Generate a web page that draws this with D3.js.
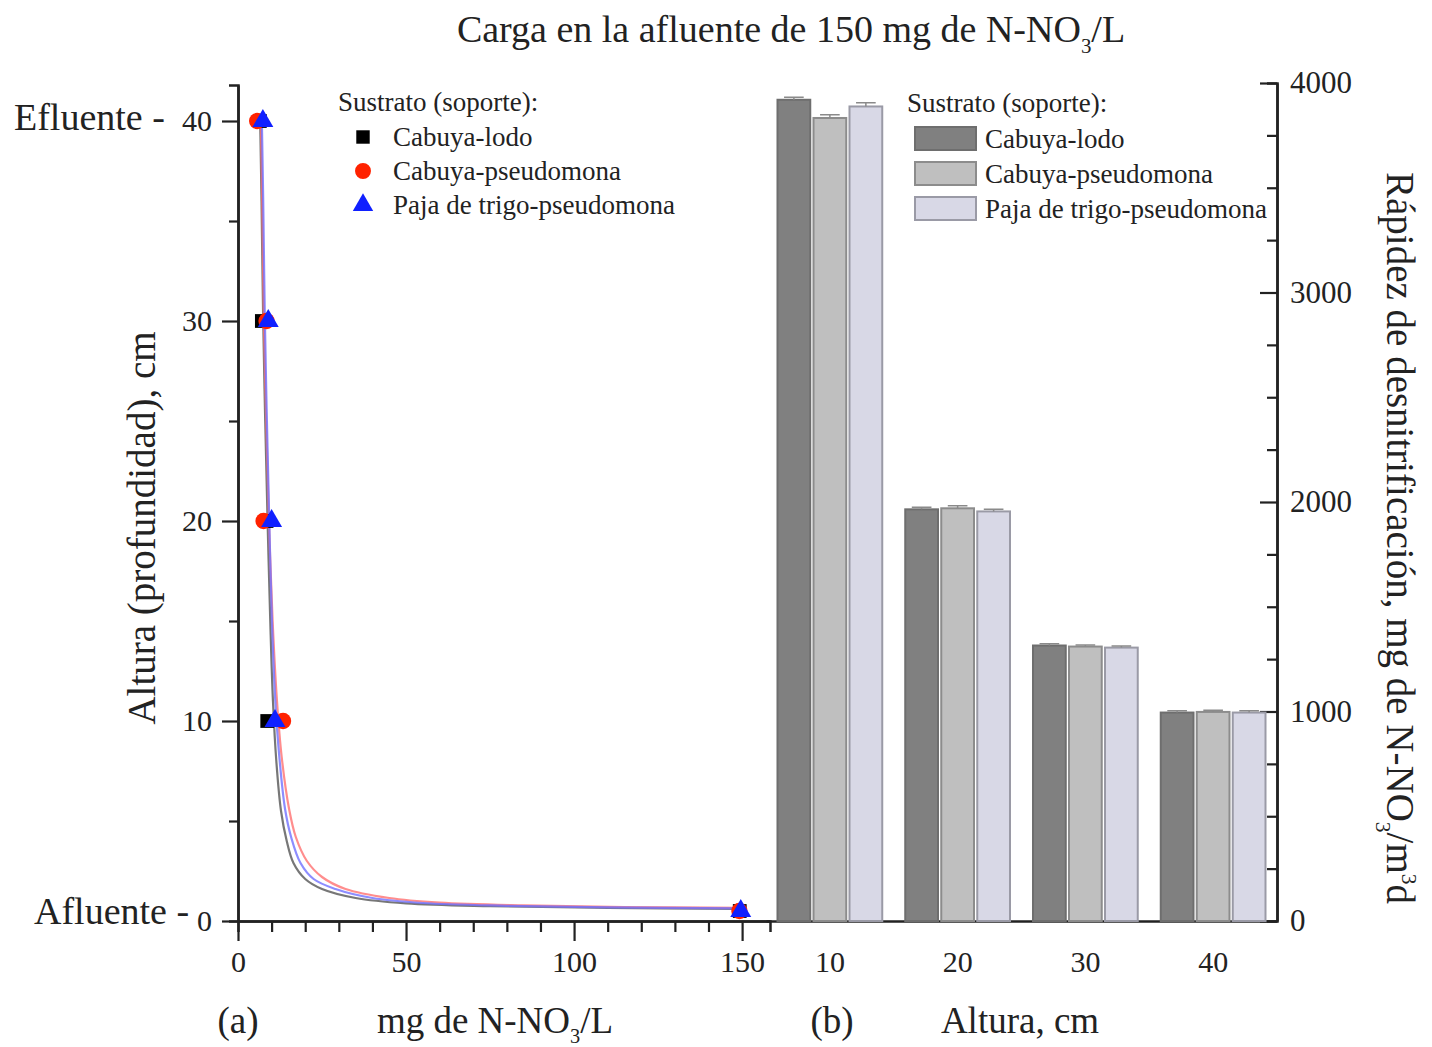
<!DOCTYPE html>
<html><head><meta charset="utf-8">
<script src="https://cdn.jsdelivr.net/npm/d3@7"></script>
<style>body{margin:0;background:#fff}</style></head>
<body><svg id="c" width="1432" height="1047"></svg>
<script>
// ---- data (left panel, scatter + fitted curves) ----
const seriesNames = ["Cabuya-lodo","Cabuya-pseudomona","Paja de trigo-pseudomona"];
const heights = [40, 30, 20, 10, 0.5];
const lodoX = [6.5, 7.1, 8.5, 8.7, 149.3];
const pseudoX = [5.7, 8.5, 7.6, 13.4, 149.2];
const pajaX = [7.4, 9.0, 10.0, 11.0, 149.6];
// fitted curves: [x, y]
const lodoCurve = [[6.6,40],[7.0,36],[7.5,30],[8.1,25],[8.8,20],[9.6,15],[10.4,11],[11.4,8],[12.8,5.5],[14.5,4],[16.5,2.9],[20,2.1],[25,1.6],[35,1.15],[50,0.88],[75,0.74],[110,0.66],[150,0.6]];
const pseudoCurve = [[6.8,40],[7.2,36],[7.7,30],[8.4,25],[9.2,20],[10.3,15],[11.6,11],[13,8.2],[15.2,5.6],[17.2,4.2],[20.5,3],[25,2.2],[32,1.6],[45,1.15],[60,0.92],[85,0.78],[115,0.7],[150,0.66]];
const pajaCurve = [[7.1,40],[7.5,36],[8.0,30],[8.6,25],[9.3,20],[10.1,15],[11.1,11],[12.3,8.2],[14,5.6],[15.8,4.2],[18.6,2.9],[22.5,2.1],[29,1.6],[40,1.15],[55,0.9],[80,0.76],[110,0.68],[150,0.63]];
const xTicksLeft = [0, 50, 100, 150];
const xMinorLeft = [10,20,30,40,60,70,80,90,110,120,130,140];
const yTicksLeft = [0, 10, 20, 30, 40];
const yMinorLeft = [5, 15, 25, 35];
// ---- data (right panel, bars) ----
const alturas = ["10","20","30","40"];
const rateLodo = [3920, 1965, 1315, 995];
const ratePseudo = [3833, 1970, 1310, 998];
const ratePaja = [3888, 1955, 1305, 995];
const errLodo = [12, 10, 8, 8];
const errPseudo = [15, 12, 8, 8];
const errPaja = [18, 10, 8, 8];
const yTicksRight = [0, 1000, 2000, 3000, 4000];
const yMinorRight = [250,500,750,1250,1500,1750,2250,2500,2750,3250,3500,3750];

const svg = d3.select("#c");
const F = "'Liberation Serif','Times New Roman',serif";
svg.append("rect").attr("width",1432).attr("height",1047).attr("fill","#fff");

// ---- scales ----
const x = d3.scaleLinear().domain([0, 158.3]).range([238, 770]);
const y = d3.scaleLinear().domain([0, 41.8]).range([921, 85]);
const xb = d3.scaleBand().domain(alturas).range([766, 1277]).paddingInner(0.18).paddingOuter(0.09);
const xs = d3.scaleBand().domain([0,1,2]).range([0, xb.bandwidth()]).paddingInner(0.09);
const yr = d3.scaleLinear().domain([0, 4000]).range([921, 83]);

function styleAxis(g){
  g.selectAll("path.domain").attr("stroke","#222").attr("stroke-width",2.5);
  g.selectAll(".tick line").attr("stroke","#222").attr("stroke-width",2.2);
  g.selectAll("text").attr("font-family",F).attr("font-size",30).attr("fill","#222");
}

// left axes
const gxMinor = svg.append("g").attr("transform","translate(0,921)")
  .call(d3.axisBottom(x).tickValues(xMinorLeft).tickSize(11).tickFormat(""));
styleAxis(gxMinor);
const gx = svg.append("g").attr("transform","translate(0,921)")
  .call(d3.axisBottom(x).tickValues(xTicksLeft).tickSizeInner(20).tickSizeOuter(0).tickPadding(10).tickFormat(d3.format("d")));
styleAxis(gx);
const gyMinor = svg.append("g").attr("transform","translate(238,0)")
  .call(d3.axisLeft(y).tickValues(yMinorLeft).tickSize(9).tickFormat(""));
styleAxis(gyMinor);
const gy = svg.append("g").attr("transform","translate(238,0)")
  .call(d3.axisLeft(y).tickValues(yTicksLeft).tickSizeInner(16).tickSizeOuter(0).tickPadding(10).tickFormat(d3.format("d")));
styleAxis(gy);

// bar bottom axis
const gxb = svg.append("g").attr("transform","translate(0,921)")
  .call(d3.axisBottom(xb).tickSize(0).tickSizeOuter(0).tickPadding(30));
styleAxis(gxb);
// right axis
const gyrMinor = svg.append("g").attr("transform","translate(1277,0)")
  .call(d3.axisRight(yr).tickValues(yMinorRight).tickSize(-10).tickFormat(""));
styleAxis(gyrMinor);
const gyr = svg.append("g").attr("transform","translate(1277,0)")
  .call(d3.axisRight(yr).tickValues(yTicksRight).tickSizeInner(-17).tickSizeOuter(0).tickPadding(13).tickFormat(d3.format("d")));
styleAxis(gyr);
gyr.selectAll("text").attr("font-size",31);

// ---- bars ----
const barFill = ["#808080","#bfbfbf","#d8d8e6"];
const barStroke = ["#6e6e6e","#8c8c8c","#9a9aa6"];
const rates = [rateLodo, ratePseudo, ratePaja];
const errs = [errLodo, errPseudo, errPaja];
rates.forEach((arr, s) => {
  const g = svg.append("g");
  g.selectAll("rect").data(arr).join("rect")
    .attr("x", (d,i) => xb(alturas[i]) + xs(s))
    .attr("y", d => yr(d))
    .attr("width", xs.bandwidth())
    .attr("height", d => yr(0) - yr(d))
    .attr("fill", barFill[s]).attr("stroke", barStroke[s]).attr("stroke-width", 2);
  g.selectAll("path.err").data(arr).join("path").attr("class","err")
    .attr("d", (d,i) => {
      const cx = xb(alturas[i]) + xs(s) + xs.bandwidth()/2;
      const top = yr(d + errs[s][i]);
      const hw = xs.bandwidth()*0.3;
      return `M${cx},${yr(d)}V${top}M${cx-hw},${top}H${cx+hw}`;
    })
    .attr("stroke","#8a8a8a").attr("stroke-width",1.5).attr("fill","none");
});

// ---- curves ----
const line = d3.line().x(d => x(d[0])).y(d => y(d[1])).curve(d3.curveCatmullRom.alpha(0.5));
const curves = [lodoCurve, pseudoCurve, pajaCurve];
const curveColors = ["#555","#ff7070","#7070ff"];
curves.forEach((c,i) => {
  svg.append("path").attr("d", line(c)).attr("fill","none")
    .attr("stroke", curveColors[i]).attr("stroke-width", 2.2).attr("stroke-opacity", 0.8);
});

// ---- markers ----
const markerColors = ["#000000","#ff2200","#1020ff"];
const symbols = [d3.symbolSquare, d3.symbolCircle, d3.symbolTriangle];
const symSizes = [190, 210, 190];
const xsData = [lodoX, pseudoX, pajaX];
xsData.forEach((xv, s) => {
  svg.append("g").selectAll("path").data(xv).join("path")
    .attr("transform", (d,i) => `translate(${x(d)},${y(heights[i])})`)
    .attr("d", d3.symbol().type(symbols[s]).size(symSizes[s]))
    .attr("fill", markerColors[s]);
});

// ---- legends ----
const txt = (xx, yy, t, size, anchor) => svg.append("text").attr("x",xx).attr("y",yy)
  .attr("font-family",F).attr("font-size",size).attr("fill","#222")
  .attr("text-anchor",anchor||"start").text(t);

txt(338, 111, "Sustrato (soporte):", 27);
seriesNames.forEach((n,i) => {
  const cy = 137 + i*34;
  svg.append("path").attr("transform",`translate(363,${cy})`)
    .attr("d", d3.symbol().type(symbols[i]).size(symSizes[i]*0.95)).attr("fill", markerColors[i]);
  txt(393, cy+9, n, 27);
});

txt(907, 112, "Sustrato (soporte):", 27);
seriesNames.forEach((n,i) => {
  const ty = 127 + i*35;
  svg.append("rect").attr("x",915).attr("y",ty).attr("width",61).attr("height",23)
    .attr("fill", barFill[i]).attr("stroke", barStroke[i]).attr("stroke-width",2);
  txt(985, ty+21, n, 27);
});

// ---- labels ----
txt(14, 130, "Efluente -", 38);
txt(34, 924, "Afluente -", 38);

function subText(xx, yy, parts, size, anchor, rot){
  const t = svg.append("text").attr("font-family",F).attr("font-size",size).attr("fill","#222")
    .attr("text-anchor", anchor||"start");
  if (rot !== undefined) t.attr("transform", `translate(${xx},${yy}) rotate(${rot})`);
  else t.attr("x",xx).attr("y",yy);
  parts.forEach(p => {
    const ts = t.append("tspan").text(p.t);
    if (p.sub) ts.attr("font-size", size*0.55).attr("dy", size*0.28);
    if (p.sup) ts.attr("font-size", size*0.55).attr("dy", -size*0.38);
    if (p.after) ts.attr("dy", p.after);
  });
  return t;
}
subText(791, 42, [{t:"Carga en la afluente de 150 mg de N-NO"},{t:"3",sub:true},{t:"/L",after:-38*0.28}], 38, "middle");
subText(495, 1033, [{t:"mg de N-NO"},{t:"3",sub:true},{t:"/L",after:-37*0.28}], 37, "middle");
txt(238, 1033, "(a)", 37, "middle");
txt(832, 1033, "(b)", 37, "middle");
txt(1020, 1033, "Altura, cm", 37, "middle");

svg.append("text").attr("transform","translate(155,528) rotate(-90)")
  .attr("font-family",F).attr("font-size",39).attr("fill","#222").attr("text-anchor","middle")
  .text("Altura (profundidad), cm");
subText(1387, 538, [{t:"Rápidez de desnitrificación, mg de N-NO"},{t:"3",sub:true},{t:"/m",after:-39*0.28},{t:"3",sup:true},{t:"d",after:39*0.38}], 39, "middle", 90);
</script></body></html>
